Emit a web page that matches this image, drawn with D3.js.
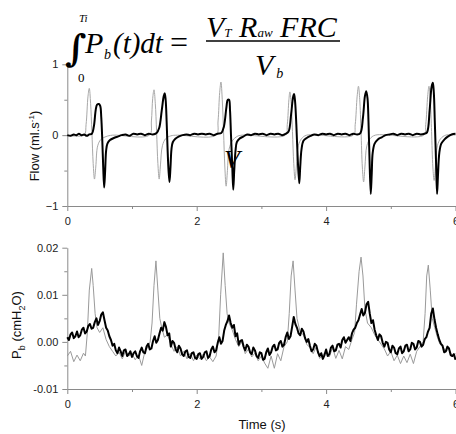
<!DOCTYPE html>
<html>
<head>
<meta charset="utf-8">
<script src="https://cdn.jsdelivr.net/npm/d3@7"></script>
<style>
  html, body { margin: 0; padding: 0; background: #fff; }
  svg { display: block; }
  .tick text { font-family: Arial, "Liberation Sans", sans-serif; font-size: 11px; fill: #222; }
  .eq { font-family: "Times New Roman", "Liberation Serif", serif; font-style: italic; fill: #000; }
</style>
</head>
<body>
<script>
// ---------------- DATA ----------------
// Top panel: flow (ml.s-1) vs time (s)
const flowBlackT = [0.00,0.05,0.10,0.14,0.18,0.22,0.26,0.30,0.34,0.38,0.41,0.44,0.46,0.49,0.51,0.525,0.54,0.555,0.57,0.585,0.60,0.62,0.66,0.72,0.78,0.84,0.90,0.96,1.02,1.08,1.14,1.20,1.26,1.32,1.38,1.42,1.46,1.49,1.505,1.52,1.535,1.55,1.565,1.58,1.595,1.61,1.63,1.67,1.72,1.78,1.84,1.90,1.96,2.02,2.08,2.14,2.20,2.26,2.32,2.38,2.42,2.46,2.48,2.50,2.515,2.53,2.55,2.565,2.58,2.60,2.62,2.66,2.72,2.78,2.84,2.90,2.96,3.02,3.08,3.14,3.20,3.26,3.32,3.38,3.42,3.46,3.49,3.505,3.52,3.54,3.56,3.585,3.60,3.62,3.65,3.70,3.76,3.82,3.88,3.94,4.00,4.06,4.12,4.18,4.24,4.30,4.36,4.42,4.48,4.53,4.57,4.60,4.62,4.64,4.655,4.67,4.69,4.705,4.72,4.75,4.80,4.86,4.92,4.98,5.04,5.10,5.16,5.22,5.28,5.34,5.40,5.46,5.52,5.56,5.60,5.63,5.65,5.665,5.68,5.70,5.715,5.73,5.75,5.78,5.83,5.88,5.94,6.00];
const flowBlackV = [0.00,-0.01,0.01,0.00,0.02,0.00,0.01,-0.01,0.01,0.02,0.12,0.36,0.43,0.44,0.41,0.25,-0.05,-0.45,-0.74,-0.50,-0.22,-0.12,-0.07,-0.04,-0.02,0.00,0.01,-0.01,0.02,0.01,0.02,0.00,0.02,0.01,0.03,0.10,0.35,0.55,0.59,0.50,0.20,-0.20,-0.50,-0.66,-0.45,-0.20,-0.10,-0.05,-0.02,0.00,0.01,0.00,0.02,0.01,0.02,0.01,0.02,0.00,0.02,0.03,0.12,0.40,0.50,0.50,0.35,0.00,-0.45,-0.77,-0.50,-0.22,-0.10,-0.05,-0.02,0.01,0.00,0.02,0.01,0.02,0.00,0.02,0.01,0.02,0.00,0.02,0.05,0.30,0.54,0.58,0.48,0.15,-0.30,-0.68,-0.45,-0.20,-0.08,-0.04,-0.01,0.01,0.00,0.02,0.01,0.02,0.00,0.02,0.01,0.02,0.00,0.02,0.01,0.03,0.25,0.55,0.62,0.52,0.20,-0.30,-0.83,-0.55,-0.25,-0.12,-0.06,-0.03,0.00,0.01,0.02,0.00,0.02,0.01,0.02,0.00,0.02,0.01,0.02,0.04,0.35,0.68,0.74,0.60,0.20,-0.40,-0.83,-0.55,-0.25,-0.12,-0.06,-0.02,0.01,0.02];
const flowGrayT = [0.00,0.26,0.29,0.32,0.34,0.36,0.38,0.40,0.42,0.44,0.47,0.52,0.60,0.70,1.27,1.30,1.32,1.34,1.36,1.38,1.40,1.42,1.44,1.47,1.52,1.60,1.70,2.30,2.33,2.355,2.375,2.395,2.415,2.435,2.455,2.475,2.50,2.55,2.62,2.70,3.37,3.40,3.425,3.44,3.46,3.48,3.50,3.52,3.54,3.57,3.62,3.70,4.42,4.45,4.48,4.50,4.52,4.54,4.56,4.58,4.60,4.63,4.68,4.76,5.51,5.54,5.57,5.59,5.61,5.63,5.65,5.67,5.69,5.72,5.77,5.85,6.00];
const flowGrayV = [0.00,0.00,0.15,0.55,0.66,0.45,0.05,-0.40,-0.62,-0.45,-0.15,-0.06,-0.02,0.00,0.00,0.20,0.52,0.64,0.45,0.05,-0.40,-0.62,-0.42,-0.15,-0.05,-0.01,0.00,0.00,0.20,0.60,0.75,0.50,0.05,-0.45,-0.72,-0.50,-0.20,-0.08,-0.02,0.00,0.00,0.15,0.50,0.61,0.45,0.05,-0.40,-0.63,-0.45,-0.15,-0.05,0.00,0.00,0.15,0.55,0.69,0.50,0.05,-0.45,-0.66,-0.45,-0.15,-0.05,0.00,0.00,0.15,0.55,0.69,0.50,0.05,-0.45,-0.64,-0.45,-0.15,-0.05,0.00,0.00];

// Bottom panel: Pb (cmH2O) vs time (s); black sampled every 0.025 s from 0 to 6 s
const pbBlackStep = 0.025;
const pbBlackV = [
 0.0010,0.0004,0.0016,0.0020,0.0008,0.0012,0.0022,0.0010,0.0014,0.0026,0.0030,0.0018,0.0022,0.0034,0.0038,0.0028,0.0030,0.0042,0.0050,0.0036,
 0.0044,0.0058,0.0063,0.0046,0.0030,0.0024,0.0012,0.0004,-0.0008,-0.0004,-0.0018,-0.0024,-0.0012,-0.0020,-0.0030,-0.0018,-0.0016,-0.0030,-0.0026,-0.0020,
 -0.0032,-0.0024,-0.0020,-0.0030,-0.0034,-0.0020,-0.0012,-0.0022,-0.0024,-0.0010,-0.0004,-0.0016,-0.0014,0.0002,0.0012,-0.0002,0.0004,0.0018,0.0030,0.0024,
 0.0042,0.0032,0.0014,0.0018,-0.0010,0.0002,-0.0002,-0.0016,-0.0022,-0.0008,-0.0014,-0.0026,-0.0030,-0.0020,-0.0018,-0.0032,-0.0034,-0.0024,-0.0022,-0.0034,
 -0.0036,-0.0026,-0.0024,-0.0036,-0.0032,-0.0022,-0.0020,-0.0034,-0.0030,-0.0016,-0.0010,-0.0022,-0.0018,-0.0002,0.0010,-0.0004,0.0002,0.0024,0.0036,0.0044,
 0.0056,0.0040,0.0030,0.0036,0.0012,0.0018,-0.0006,0.0002,0.0004,-0.0010,-0.0018,-0.0006,-0.0010,-0.0022,-0.0026,-0.0012,-0.0018,-0.0030,-0.0034,-0.0022,
 -0.0024,-0.0038,-0.0036,-0.0022,-0.0014,-0.0028,-0.0022,-0.0010,-0.0006,-0.0018,-0.0016,-0.0002,0.0002,-0.0010,-0.0006,0.0010,0.0020,0.0006,0.0012,0.0032,
 0.0053,0.0038,0.0030,0.0018,0.0014,0.0028,0.0022,0.0008,0.0000,0.0006,-0.0008,-0.0020,-0.0016,-0.0004,-0.0008,-0.0022,-0.0030,-0.0024,-0.0036,-0.0028,
 -0.0016,-0.0030,-0.0026,-0.0012,-0.0008,-0.0020,-0.0018,-0.0006,-0.0004,-0.0012,0.0004,0.0010,-0.0002,0.0004,0.0010,0.0002,0.0018,0.0026,0.0030,0.0040,
 0.0046,0.0058,0.0070,0.0056,0.0062,0.0080,0.0085,0.0060,0.0040,0.0046,0.0026,0.0014,0.0004,0.0016,0.0012,-0.0002,-0.0010,0.0000,-0.0002,-0.0016,
 -0.0022,-0.0008,-0.0012,-0.0024,-0.0026,-0.0014,-0.0010,-0.0024,-0.0020,-0.0008,-0.0006,-0.0020,-0.0016,-0.0002,-0.0004,-0.0016,-0.0012,0.0002,0.0000,-0.0010,
 -0.0006,0.0006,0.0010,0.0022,0.0030,0.0060,0.0071,0.0048,0.0030,0.0016,0.0004,-0.0004,-0.0008,-0.0022,-0.0020,-0.0010,-0.0014,-0.0028,-0.0030,-0.0026,
 -0.0038];
const pbGrayT = [0.00,0.05,0.10,0.15,0.20,0.25,0.28,0.31,0.34,0.377,0.40,0.43,0.46,0.50,0.55,0.60,0.65,0.70,0.75,0.80,0.85,0.90,0.95,1.00,1.05,1.10,1.15,1.20,1.25,1.28,1.31,1.34,1.37,1.40,1.43,1.46,1.50,1.55,1.60,1.65,1.70,1.75,1.80,1.85,1.90,1.95,2.00,2.05,2.10,2.15,2.20,2.25,2.30,2.34,2.37,2.41,2.44,2.47,2.50,2.55,2.60,2.65,2.70,2.75,2.80,2.85,2.90,2.95,3.00,3.05,3.10,3.15,3.20,3.25,3.30,3.35,3.40,3.43,3.46,3.49,3.52,3.55,3.60,3.65,3.70,3.75,3.80,3.85,3.90,3.95,4.00,4.05,4.10,4.15,4.20,4.25,4.30,4.35,4.40,4.44,4.47,4.51,4.54,4.57,4.60,4.64,4.70,4.75,4.80,4.85,4.90,4.95,5.00,5.05,5.10,5.15,5.20,5.25,5.30,5.35,5.40,5.45,5.50,5.53,5.555,5.58,5.61,5.64,5.68,5.72,5.76,5.80,5.85,5.90,5.95,6.00];
const pbGrayV = [-0.0030,-0.0020,-0.0042,-0.0028,-0.0040,-0.0024,-0.0030,0.0020,0.0110,0.0156,0.0120,0.0060,0.0030,0.0020,0.0030,0.0005,-0.0010,-0.0020,-0.0030,-0.0022,-0.0036,-0.0020,-0.0030,-0.0025,-0.0038,-0.0028,-0.0050,-0.0020,-0.0010,0.0000,0.0040,0.0120,0.0172,0.0110,0.0050,0.0030,0.0010,0.0015,-0.0005,-0.0020,-0.0010,-0.0030,-0.0020,-0.0036,-0.0024,-0.0040,-0.0028,-0.0036,-0.0026,-0.0040,-0.0032,-0.0042,-0.0030,0.0010,0.0100,0.0189,0.0120,0.0060,0.0040,0.0025,0.0005,-0.0010,0.0000,-0.0025,-0.0015,-0.0032,-0.0024,-0.0040,-0.0030,-0.0045,-0.0056,-0.0030,-0.0056,-0.0025,-0.0040,-0.0010,0.0000,0.0060,0.0140,0.0172,0.0110,0.0050,0.0020,0.0015,-0.0005,-0.0012,-0.0025,-0.0010,-0.0035,-0.0028,-0.0020,-0.0032,-0.0012,-0.0035,-0.0018,-0.0036,-0.0010,-0.0016,0.0005,0.0020,0.0080,0.0150,0.0180,0.0140,0.0070,0.0040,0.0030,0.0015,0.0005,-0.0005,-0.0015,-0.0030,-0.0020,-0.0040,-0.0028,-0.0046,-0.0030,-0.0044,-0.0026,-0.0046,-0.0020,-0.0010,0.0000,0.0060,0.0140,0.0163,0.0110,0.0050,0.0030,0.0010,-0.0005,-0.0010,-0.0020,-0.0015,-0.0030,-0.0025];

// Tick labels
const xTicks = [0, 2, 4, 6];
const xMinor = [1, 3, 5];
const flowTicks = [-1, 0, 1];
const flowMinor = [-0.5, 0.5];
const pbTicks = [-0.01, 0.00, 0.01, 0.02];
const pbMinor = [-0.005, 0.005, 0.015];

// ---------------- CHART ----------------
const W = 456, H = 434;
const svg = d3.select("body").append("svg").attr("width", W).attr("height", H);

const x = d3.scaleLinear().domain([0, 6]).range([67.3, 455.5]);
const yFlow = d3.scaleLinear().domain([-1, 1]).range([206, 64.3]);
const yPb = d3.scaleLinear().domain([-0.01, 0.02]).range([389, 247.7]);

const axisColor = "#8a8a8a";

function styleAxis(g) {
  g.select(".domain").attr("stroke", axisColor).attr("stroke-width", 1);
  g.selectAll(".tick line").attr("stroke", axisColor);
}

function drawPanel(yScale, yTicks, yMinor, yFmt, xAxisY) {
  const gy = svg.append("g").attr("transform", `translate(${x(0)},0)`)
    .call(d3.axisLeft(yScale).tickValues(yTicks).tickFormat(yFmt).tickSize(5).tickPadding(4).tickSizeOuter(0));
  styleAxis(gy);
  const gym = svg.append("g").attr("transform", `translate(${x(0)},0)`)
    .call(d3.axisLeft(yScale).tickValues(yMinor).tickFormat("").tickSize(3).tickSizeOuter(0));
  styleAxis(gym); gym.select(".domain").remove();

  const gx = svg.append("g").attr("transform", `translate(0,${xAxisY})`)
    .call(d3.axisBottom(x).tickValues(xTicks).tickFormat(d3.format("d")).tickSize(5).tickPadding(6).tickSizeOuter(0));
  styleAxis(gx);
  const gxm = svg.append("g").attr("transform", `translate(0,${xAxisY})`)
    .call(d3.axisBottom(x).tickValues(xMinor).tickFormat("").tickSize(3).tickSizeOuter(0));
  styleAxis(gxm); gxm.select(".domain").remove();
}

drawPanel(yFlow, flowTicks, flowMinor, d3.format("d"), yFlow(-1));
drawPanel(yPb, pbTicks, pbMinor, d => d3.format(".2f")(d).replace("−", "-"), yPb(-0.01));

// lines
const flowGray = flowGrayT.map((t, i) => [t, flowGrayV[i]]);
const flowBlack = flowBlackT.map((t, i) => [t, flowBlackV[i]]);
const pbGray = pbGrayT.map((t, i) => [t, pbGrayV[i]]);
const pbBlack = pbBlackV.map((v, i) => [i * pbBlackStep, v]);

const lineFlow = d3.line().x(d => x(d[0])).y(d => yFlow(d[1])).curve(d3.curveCatmullRom.alpha(0.5));
const linePb = d3.line().x(d => x(d[0])).y(d => yPb(d[1]));

svg.append("path").datum(flowGray).attr("d", lineFlow).attr("fill", "none").attr("stroke", "#a8a8a8").attr("stroke-width", 1);
svg.append("path").datum(flowBlack).attr("d", lineFlow).attr("fill", "none").attr("stroke", "#000").attr("stroke-width", 2);
svg.append("path").datum(pbGray).attr("d", linePb).attr("fill", "none").attr("stroke", "#9a9a9a").attr("stroke-width", 1);
svg.append("path").datum(pbBlack).attr("d", linePb).attr("fill", "none").attr("stroke", "#000").attr("stroke-width", 2).attr("stroke-linejoin", "round");

// axis titles
const sans = "Arial, 'Liberation Sans', sans-serif";
const t1 = svg.append("text").attr("transform", "translate(39,146) rotate(-90)")
  .attr("text-anchor", "middle").style("font-family", sans).style("font-size", "13px").attr("fill", "#111");
t1.append("tspan").text("Flow (ml.s");
t1.append("tspan").attr("dy", -5).style("font-size", "8px").text("-1");
t1.append("tspan").attr("dy", 5).text(")");

const t2 = svg.append("text").attr("transform", "translate(21,325) rotate(-90)")
  .attr("text-anchor", "middle").style("font-family", sans).style("font-size", "13px").attr("fill", "#111");
t2.append("tspan").text("P");
t2.append("tspan").attr("dy", 4).style("font-size", "9px").text("b");
t2.append("tspan").attr("dy", -4).text(" (cmH");
t2.append("tspan").attr("dy", 4).style("font-size", "9px").text("2");
t2.append("tspan").attr("dy", -4).text("O)");

svg.append("text").attr("x", 262).attr("y", 429).attr("text-anchor", "middle")
  .style("font-family", sans).style("font-size", "13px").attr("fill", "#111").text("Time (s)");

// equation
const eq = svg.append("g");
eq.append("text").attr("x", 65).attr("y", 61).style("font-family", "'DejaVu Serif', serif").style("font-weight", "bold").style("font-size", "37px").text("∫");
eq.append("text").attr("class", "eq").attr("x", 79).attr("y", 22).style("font-size", "11px").text("Ti");
eq.append("text").attr("class", "eq").attr("x", 78).attr("y", 82).style("font-style", "normal").style("font-size", "13px").text("0");
eq.append("text").attr("class", "eq").attr("x", 85).attr("y", 53).style("font-size", "30px").text("P");
eq.append("text").attr("class", "eq").attr("x", 104).attr("y", 59).style("font-size", "14px").text("b");
eq.append("text").attr("class", "eq").attr("x", 113).attr("y", 53).style("font-size", "29px").text("(t)dt");
eq.append("text").attr("class", "eq").attr("x", 170).attr("y", 53).style("font-style", "normal").style("font-size", "32px").text("=");
const num = eq.append("text").attr("class", "eq").attr("x", 206).attr("y", 37).style("font-size", "30px");
num.append("tspan").text("V");
num.append("tspan").style("font-size", "13px").text("T");
num.append("tspan").text(" R");
num.append("tspan").style("font-size", "13px").text("aw");
num.append("tspan").text(" FRC");
eq.append("line").attr("x1", 206).attr("x2", 340).attr("y1", 41).attr("y2", 41).attr("stroke", "#000").attr("stroke-width", 1.5);
const den = eq.append("text").attr("class", "eq").attr("x", 255).attr("y", 75).style("font-size", "30px");
den.append("tspan").text("V");
den.append("tspan").attr("dx", 3).attr("dy", 3).style("font-size", "14px").text("b");

// stray flow symbol over the third cycle
svg.append("text").attr("class", "eq").attr("x", 224).attr("y", 168).style("font-size", "26px").text("V");
</script>
</body>
</html>
